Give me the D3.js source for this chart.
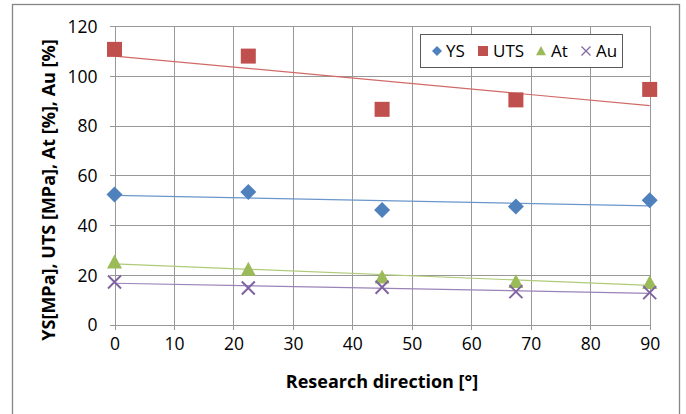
<!DOCTYPE html>
<html><head><meta charset="utf-8">
<script src="https://cdn.jsdelivr.net/npm/d3@7"></script>
<style>body{margin:0;background:#fff}svg{display:block}text{font-family:"Open Sans",sans-serif;fill:#000}</style>
</head><body><svg id="c" width="686" height="414"></svg>
<script>
const directions = [0, 22.5, 45, 67.5, 90];
const ysValues  = [52.3, 53.3, 46.0, 47.4, 50.0];
const utsValues = [110.6, 107.9, 86.5, 90.3, 94.5];
const atValues  = [25.1, 22.2, 19.0, 17.2, 16.8];
const auValues  = [17.1, 14.7, 15.0, 13.2, 12.8];
const seriesNames = ["YS", "UTS", "At", "Au"];
const xTicks = [0, 10, 20, 30, 40, 50, 60, 70, 80, 90];
const yTicks = [0, 20, 40, 60, 80, 100, 120];
const xTitle = "Research direction [°]";
const yTitle = "YS[MPa], UTS [MPa], At [%], Au [%]";

const series = [
  {name: seriesNames[0], values: ysValues,  color: "#4F81BD", trend: "#6A96CB", shape: "diamond"},
  {name: seriesNames[1], values: utsValues, color: "#C0504D", trend: "#D06A67", shape: "square"},
  {name: seriesNames[2], values: atValues,  color: "#9BBB59", trend: "#AFCB78", shape: "triangle"},
  {name: seriesNames[3], values: auValues,  color: "#8064A2", trend: "#9A83B8", shape: "cross"}
];

const svg = d3.select("#c");
const x = d3.scaleLinear().domain([0, 90]).range([114.5, 649.7]);
const y = d3.scaleLinear().domain([0, 120]).range([324.5, 26]);

// outer border
svg.append("rect").attr("x", 12.5).attr("y", 4.5).attr("width", 667).attr("height", 420)
  .attr("fill", "#fff").attr("stroke", "#868686").attr("stroke-width", 1.3);

// gridlines
const grid = svg.append("g").attr("stroke", "#989898").attr("stroke-width", 1).attr("shape-rendering", "crispEdges");
grid.selectAll(".h").data(yTicks).join("line")
  .attr("x1", x(0) - 5).attr("x2", x(90)).attr("y1", d => Math.round(y(d)) + 0.5).attr("y2", d => Math.round(y(d)) + 0.5);
grid.selectAll(".v").data(xTicks).join("line")
  .attr("y1", y(120)).attr("y2", y(0) + 5).attr("x1", d => Math.round(x(d)) + 0.5).attr("x2", d => Math.round(x(d)) + 0.5);

// axes tick labels via d3 axes
const yAxis = d3.axisLeft(y).tickValues(yTicks).tickSize(0).tickPadding(0);
const gy = svg.append("g").attr("transform", `translate(${x(0) - 17},0)`).call(yAxis);
gy.select(".domain").remove();
gy.selectAll("text").attr("font-size", 17.5).attr("font-family", "Open Sans").attr("fill", "#000").attr("dy", "0.36em");

const xAxis = d3.axisBottom(x).tickValues(xTicks).tickSize(0).tickPadding(0);
const gx = svg.append("g").attr("transform", `translate(0,${y(0) + 13})`).call(xAxis);
gx.select(".domain").remove();
gx.selectAll("text").attr("font-size", 17.5).attr("font-family", "Open Sans").attr("fill", "#000").attr("dy", "0.71em");

// titles
svg.append("text").attr("x", 382).attr("y", 388).attr("text-anchor", "middle")
  .attr("font-weight", "bold").attr("font-size", 18).text(xTitle);
svg.append("text").attr("transform", "translate(55,190) rotate(-90)").attr("text-anchor", "middle")
  .attr("font-weight", "bold").attr("font-size", 18).text(yTitle);

// trend lines (least squares from data)
function fit(vals) {
  const mx = d3.mean(directions), my = d3.mean(vals);
  let sxy = 0, sxx = 0;
  directions.forEach((d, i) => { sxy += (d - mx) * (vals[i] - my); sxx += (d - mx) ** 2; });
  const b = sxy / sxx; return [my - b * mx, b];
}
series.forEach(s => {
  const [a, b] = fit(s.values);
  svg.append("line").attr("x1", x(0)).attr("x2", x(90))
    .attr("y1", y(a)).attr("y2", y(a + b * 90))
    .attr("stroke", s.trend).attr("stroke-width", 1.2);
});

function marker(g, shape, color, size) {
  const r = size / 2;
  if (shape === "diamond") {
    g.append("path").attr("d", `M0,${-r}L${r},0L0,${r}L${-r},0Z`).attr("fill", color);
  } else if (shape === "square") {
    g.append("rect").attr("x", -r).attr("y", -r).attr("width", size).attr("height", size).attr("fill", color);
  } else if (shape === "triangle") {
    g.append("path").attr("d", `M0,${-r}L${r},${r * 0.85}L${-r},${r * 0.85}Z`).attr("fill", color);
  } else {
    g.append("path").attr("d", `M${-r},${-r}L${r},${r}M${r},${-r}L${-r},${r}`)
      .attr("stroke", color).attr("stroke-width", size > 10 ? 2 : 1.2).attr("fill", "none");
  }
}

const sizes = {diamond: 16, square: 15, triangle: 15, cross: 13};
series.forEach(s => {
  s.values.forEach((v, i) => {
    const g = svg.append("g").attr("transform", `translate(${x(directions[i])},${y(v)})`);
    marker(g, s.shape, s.color, sizes[s.shape]);
  });
});

// legend
const lg = svg.append("g");
lg.append("rect").attr("x", 420.5).attr("y", 34.5).attr("width", 202).attr("height", 33)
  .attr("fill", "#fff").attr("stroke", "#595959").attr("stroke-width", 1);
const legendPos = [[437, 446], [483, 493], [541, 551], [586, 596]];
const lsizes = {diamond: 10, square: 10, triangle: 10, cross: 9};
series.forEach((s, i) => {
  const g = lg.append("g").attr("transform", `translate(${legendPos[i][0]},51)`);
  marker(g, s.shape, s.color, lsizes[s.shape]);
  lg.append("text").attr("x", legendPos[i][1]).attr("y", 51).attr("dy", "0.36em")
    .attr("font-size", 17).text(s.name);
});
</script></body></html>
